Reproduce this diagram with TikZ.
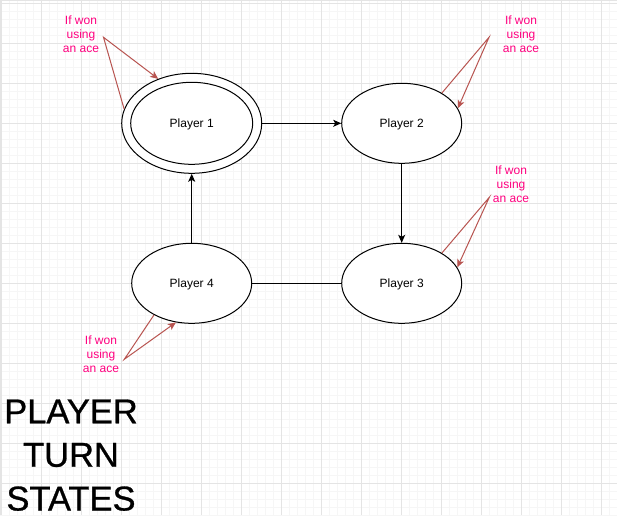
\documentclass[tikz,border=0pt]{standalone}
\usepackage{fontspec}
\setmainfont{Liberation Sans}
\newfontfamily\titlefont[FakeBold=0.8]{Liberation Sans}
\usetikzlibrary{shapes.geometric,arrows.meta}
\definecolor{gridminor}{HTML}{F6F6F6}
\definecolor{gridmajor}{HTML}{E4E4E4}
\definecolor{annline}{HTML}{B85450}
\definecolor{anntext}{HTML}{FF0080}
\tikzset{
  state/.style={draw=black, line width=1pt, ellipse, minimum width=120pt, minimum height=80pt, inner sep=0pt, fill=white, text height=8.6pt, text depth=0pt, font=\fontsize{12}{14}\selectfont},
  flow/.style={draw=black, line width=1pt, -{Stealth[length=8pt,width=7pt,inset=2pt]}},
  plain/.style={draw=black, line width=1pt},
  annarrow/.style={draw=annline, line width=1pt, -{Stealth[length=8pt,width=7pt,inset=2pt]}},
  anntxt/.style={text=anntext, align=center, font=\fontsize{12}{14}\selectfont, inner sep=0pt},
  title/.style={font=\titlefont\fontsize{34.5}{40}\selectfont, anchor=base, inner sep=0pt},
}
\begin{document}
\begin{tikzpicture}[x=1pt,y=-1pt]
\useasboundingbox (0,0) rectangle (617,515);
\fill[white] (0,0) rectangle (617,515);
% grid
\foreach \i in {0,...,77} { \draw[gridminor, line width=0.6pt] ({1.3+8*\i},0) -- ({1.3+8*\i},515); }
\foreach \i in {0,...,64} { \draw[gridminor, line width=0.6pt] (0,{3.3+8*\i}) -- (617,{3.3+8*\i}); }
\foreach \i in {0,...,15} { \draw[gridmajor, line width=1pt] ({1.3+40*\i},0) -- ({1.3+40*\i},515); }
\foreach \i in {0,...,12} { \draw[gridmajor, line width=1pt] (0,{3.3+40*\i}) -- (617,{3.3+40*\i}); }
\draw[gridmajor, line width=1pt] (0,0.8) -- (617,0.8);
\draw[gridmajor, line width=1pt] (0.5,0) -- (0.5,515);

% states
\node[state, minimum width=140pt, minimum height=100pt] (p1o) at (191.7,123.3) {};
\node[state, minimum width=122pt, minimum height=82pt] (p1) at (191.7,123.3) {Player 1};
\node[state] (p2) at (401.7,123.3) {Player 2};
\node[state] (p3) at (401.7,283.3) {Player 3};
\node[state] (p4) at (191.7,283.3) {Player 4};

% transitions
\draw[flow] (p1o.east) -- (p2.west);
\draw[flow] (p2.south) -- (p3.north);
\draw[flow] (p4.north) -- (p1o.south);
\draw[plain] (p3.west) -- (p4.east);

% annotations
\node[anntxt] (a1) at (81,34) {If won\\using\\an ace};
\node[anntxt] (a2) at (521,34) {If won\\using\\an ace};
\node[anntxt] (a3) at (511,184) {If won\\using\\an ace};
\node[anntxt] (a4) at (101,354) {If won\\using\\an ace};
\coordinate (b1) at (103.5,37.3);
\coordinate (b2) at (489,37.3);
\coordinate (b3) at (489.3,197.3);
\coordinate (b4) at (124.3,359.3);
\draw[annarrow] (p1o.168) -- (b1) -- (p1o.127);
\draw[annarrow] (p2.37) -- (b2) -- (p2.15);
\draw[annarrow] (p3.37) -- (b3) -- (p3.16);
\draw[annarrow] (p4.220) -- (b4) -- (p4.248);

% title
\node[title] (t1) at (71,423.3) {PLAYER};
\node[title] (t2) at (71,466.7) {TURN};
\node[title] (t3) at (71,510.5) {STATES};
\end{tikzpicture}
\end{document}
